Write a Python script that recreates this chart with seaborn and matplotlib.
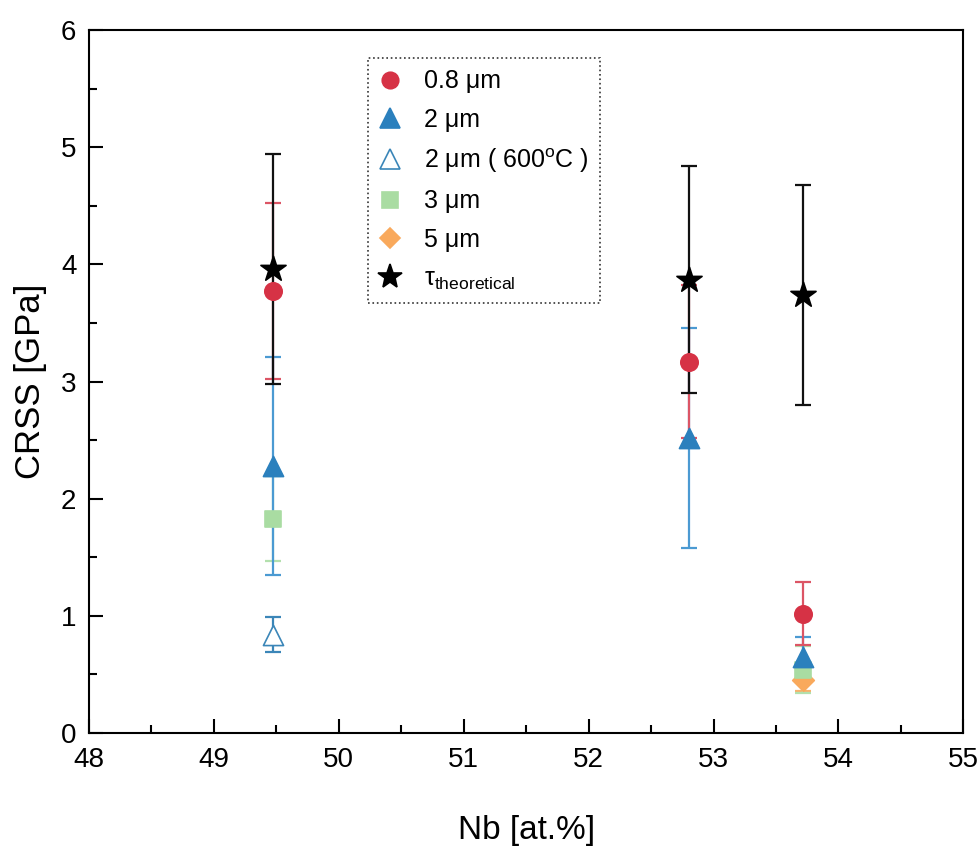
import matplotlib
matplotlib.use("Agg")
import matplotlib.pyplot as plt
import seaborn as sns
import pandas as pd
from matplotlib.ticker import MultipleLocator

# data
nb = [49.47, 52.8, 53.72]

crss_08 = [3.77, 3.17, 1.02]
err_08 = [0.75, 0.65, 0.27]

crss_2 = [2.28, 2.52, 0.65]
err_2 = [0.93, 0.94, 0.17]

nb_2_600 = [49.47]
crss_2_600 = [0.84]
err_2_600 = [0.15]

nb_3 = [49.47, 53.72]
crss_3 = [1.83, 0.54]
err_3 = [0.36, 0.20]

nb_5 = [53.72]
crss_5 = [0.45]
err_5 = [0.09]

tau_th = [3.96, 3.87, 3.74]
err_th = [0.98, 0.97, 0.94]

labels = ["0.8 μm", "2 μm", "2 μm ( 600$^{\\mathrm{o}}$C )", "3 μm", "5 μm",
          "τ$_{\\mathrm{theoretical}}$"]

sns.set_style("ticks")
plt.rcParams['font.family'] = ['Liberation Sans', 'DejaVu Sans']
plt.rcParams['mathtext.fontset'] = 'custom'
plt.rcParams['mathtext.rm'] = 'Liberation Sans'
plt.rcParams['mathtext.it'] = 'Liberation Sans:italic'
plt.rcParams['text.color'] = 'black'
plt.rcParams['axes.labelcolor'] = 'black'
plt.rcParams['xtick.color'] = 'black'
plt.rcParams['ytick.color'] = 'black'
plt.rcParams['axes.edgecolor'] = 'black'

fig = plt.figure(figsize=(9.78, 8.48), dpi=100)
ax = fig.add_axes([0.091, 0.1356, 0.894, 0.829])

series = [
    # x, y, err, marker, face, edge, errcolor, size, label
    (nb_5, crss_5, err_5, "D", "#f9a95c", "#f9a95c", "#f7b36e", 11, labels[4]),
    (nb_3, crss_3, err_3, "s", "#a9dca2", "#a9dca2", "#b3e0ad", 11.5, labels[3]),
    (nb_2_600, crss_2_600, err_2_600, "^", "white", "#3b86b8", "#3b86b8", 14.5, labels[2]),
    (nb, crss_2, err_2, "^", "#2b80bd", "#2b80bd", "#4b9ad2", 14.5, labels[1]),
    (nb, crss_08, err_08, "o", "#d63245", "#d63245", "#dc5565", 12.5, labels[0]),
    (nb, tau_th, err_th, "*", "black", "black", "#111111", 19, labels[5]),
]

handles = {}
for i, (x, y, e, m, fc, ec, errc, ms, lab) in enumerate(series):
    ax.errorbar(x, y, yerr=e, fmt="none", ecolor=errc, elinewidth=1.6,
                capsize=6, capthick=1.6, zorder=2 + i * 0.1)
    df = pd.DataFrame({"x": x, "y": y})
    sns.scatterplot(data=df, x="x", y="y", ax=ax, marker=m, s=ms ** 2,
                    color=fc, edgecolor=ec, linewidth=1.2, zorder=4 + i * 0.1)
    handles[lab] = plt.Line2D([], [], linestyle="none", marker=m, markersize=ms * 0.95,
                              markerfacecolor=fc, markeredgecolor=ec, markeredgewidth=1.2)

leg = ax.legend([handles[l] for l in labels], labels, loc="upper left",
                bbox_to_anchor=(0.319, 0.960), borderaxespad=0, fontsize=18,
                frameon=True, fancybox=False, handletextpad=0.9, labelspacing=0.58,
                borderpad=0.45, handlelength=0.9)
leg.get_frame().set_edgecolor("black")
leg.get_frame().set_linestyle(":")
leg.get_frame().set_linewidth(1.2)

ax.set_xlim(48, 55)
ax.set_ylim(0, 6)
ax.xaxis.set_major_locator(MultipleLocator(1))
ax.xaxis.set_minor_locator(MultipleLocator(0.5))
ax.yaxis.set_major_locator(MultipleLocator(1))
ax.yaxis.set_minor_locator(MultipleLocator(0.5))
ax.tick_params(which="both", direction="in", top=False, right=False, width=1.5,
               labelsize=20)
ax.tick_params(axis="x", pad=10)
ax.tick_params(axis="y", pad=9)
ax.tick_params(which="major", length=10)
ax.tick_params(which="minor", length=6)
for s in ax.spines.values():
    s.set_linewidth(1.5)

ax.set_xlabel("Nb [at.%]", fontsize=24, labelpad=30)
ax.set_ylabel("CRSS [GPa]", fontsize=25, labelpad=10)

fig.savefig("out.png", dpi=100)
